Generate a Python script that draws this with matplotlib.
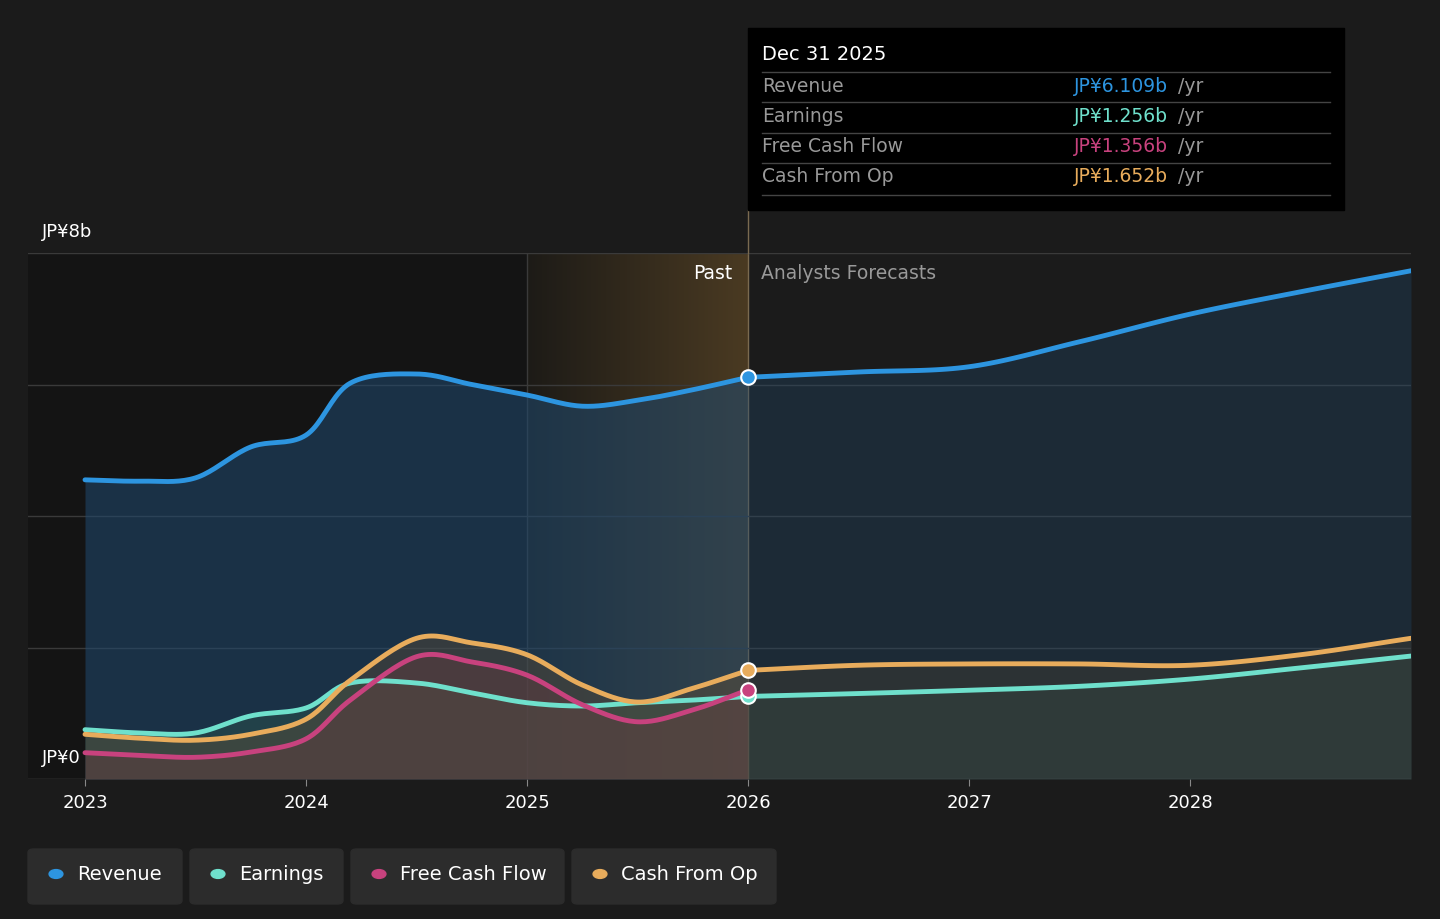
import matplotlib.pyplot as plt
import numpy as np
from matplotlib.patches import FancyBboxPatch, Rectangle
from matplotlib.colors import LinearSegmentedColormap

years_past = [2023, 2023.25, 2023.5, 2023.75, 2024, 2024.2, 2024.5, 2024.75, 2025, 2025.25, 2025.5, 2025.75, 2026]
years_fc = [2026, 2026.5, 2027, 2027.5, 2028, 2028.5, 2029]
rev_past = [4.55, 4.53, 4.58, 5.05, 5.23, 6.02, 6.16, 6.0, 5.84, 5.67, 5.76, 5.92, 6.109]
rev_fc = [6.109, 6.19, 6.27, 6.65, 7.07, 7.41, 7.73]
earn_past = [0.75, 0.70, 0.70, 0.96, 1.08, 1.46, 1.46, 1.31, 1.16, 1.11, 1.16, 1.2, 1.256]
earn_fc = [1.256, 1.30, 1.35, 1.41, 1.52, 1.69, 1.87]
fcf_past = [0.40, 0.36, 0.33, 0.41, 0.61, 1.2, 1.86, 1.78, 1.58, 1.13, 0.87, 1.05, 1.356]
cfo_past = [0.68, 0.62, 0.59, 0.68, 0.91, 1.5, 2.14, 2.07, 1.89, 1.43, 1.17, 1.38, 1.652]
cfo_fc = [1.652, 1.73, 1.75, 1.75, 1.73, 1.89, 2.14]

def smooth(x, y, n=20):
    x = np.asarray(x, float); y = np.asarray(y, float)
    P = np.concatenate([[2*y[0]-y[1]], y, [2*y[-1]-y[-2]]])
    X = np.concatenate([[2*x[0]-x[1]], x, [2*x[-1]-x[-2]]])
    xs, ys = [], []
    for i in range(1, len(X)-2):
        t = np.linspace(0, 1, n, endpoint=False)
        for A, out in ((X, xs), (P, ys)):
            p0, p1, p2, p3 = A[i-1], A[i], A[i+1], A[i+2]
            out.extend(0.5*((2*p1) + (-p0+p2)*t + (2*p0-5*p1+4*p2-p3)*t**2 + (-p0+3*p1-3*p2+p3)*t**3))
    xs.append(x[-1]); ys.append(y[-1])
    return np.array(xs), np.array(ys)

BG = '#1b1b1b'
fig = plt.figure(figsize=(14.4, 9.19), dpi=100, facecolor=BG)
ax = fig.add_axes([28/1440, 1-779/919, (1411-28)/1440, (779-253)/919])
ax.set_facecolor(BG)
x0 = 2023 - 57/221
ax.set_xlim(x0, 2029)
ax.set_ylim(0, 8)

ax.axvspan(x0, 2025, color='#141414', zorder=0)
grad = np.linspace(0, 1, 256).reshape(1, -1)
cm = LinearSegmentedColormap.from_list('g', ['#1d1b17', '#4a3a22'])
ax.imshow(grad, extent=[2025, 2026, 0, 8], aspect='auto', cmap=cm, zorder=0.5)
ax.axvline(2025, color='#3a3a3a', lw=1, zorder=1)
ax.axvline(2026, color='#7a6a50', lw=1, zorder=1)
ax.plot([2026, 2026], [8, 8 + (253-210)/65.75], color='#7a6a50', lw=1, clip_on=False)

for v in [0, 2, 4, 6, 8]:
    ax.axhline(v, color='#3a3a3a' if v else '#555555', lw=1, zorder=1)

series = [
    (years_past, rev_past, years_fc, rev_fc, '#2d95e0', '#1f4a70', 0.55),
    (years_past, earn_past, years_fc, earn_fc, '#6fe0cc', '#2f5a50', 0.4),
    (years_past, fcf_past, None, None, '#c8427e', '#6a2f48', 0.4),
    (years_past, cfo_past, years_fc, cfo_fc, '#e8ac5c', '#6a5030', 0.35),
]
for xp, yp, xf, yf, c, fc, a in series:
    sx, sy = smooth(xp, yp)
    ax.fill_between(sx, sy, 0, color=fc, alpha=a, lw=0, zorder=2)
    ax.plot(sx, sy, color=c, lw=3.5, zorder=4, solid_capstyle='round')
    if xf:
        fx_, fy_ = smooth(xf, yf)
        ax.fill_between(fx_, fy_, 0, color=fc, alpha=a*0.6, lw=0, zorder=2)
        ax.plot(fx_, fy_, color=c, lw=3.5, zorder=4, solid_capstyle='round')
    ax.scatter([2026], [yp[-1]], s=110, color=c, edgecolor='white', linewidth=1.5, zorder=6)

for s in ax.spines.values():
    s.set_visible(False)
ax.set_yticks([])
ax.set_xticks([2023, 2024, 2025, 2026, 2027, 2028])
ax.tick_params(axis='x', colors='#888888', labelcolor='white', labelsize=13, length=5, pad=6)

def fx(p): return p/1440
def fy(p): return 1 - p/919
fig.text(fx(42), fy(232), 'JP¥8b', color='white', fontsize=13, va='center')
fig.text(fx(42), fy(758), 'JP¥0', color='white', fontsize=13, va='center')
ax.text(2025.93, 7.6, 'Past', color='white', fontsize=13.5, ha='right')
ax.text(2026.06, 7.6, 'Analysts Forecasts', color='#999999', fontsize=13.5, ha='left')

fig.patches.append(Rectangle((fx(748), fy(210)), fx(1344-748), (210-28)/919, color='black', transform=fig.transFigure))
fig.text(fx(762), fy(55), 'Dec 31 2025', color='white', fontsize=14, va='center')
rows = [('Revenue', 'JP¥6.109b', '#2d95e0', 86), ('Earnings', 'JP¥1.256b', '#6fe0cc', 116),
        ('Free Cash Flow', 'JP¥1.356b', '#c8427e', 147), ('Cash From Op', 'JP¥1.652b', '#e8ac5c', 177)]
for lab, val, c, y in rows:
    fig.lines.append(plt.Line2D([fx(762), fx(1330)], [fy(y-14)]*2, color='#444444', lw=1, transform=fig.transFigure))
    fig.text(fx(762), fy(y), lab, color='#999999', fontsize=13.5, va='center')
    fig.text(fx(1074), fy(y), val, color=c, fontsize=13.5, va='center')
    fig.text(fx(1178), fy(y), '/yr', color='#999999', fontsize=13.5, va='center')
fig.lines.append(plt.Line2D([fx(762), fx(1330)], [fy(195)]*2, color='#444444', lw=1, transform=fig.transFigure))

legs = [('Revenue', '#2d95e0', 28, 182), ('Earnings', '#6fe0cc', 190, 343),
        ('Free Cash Flow', '#c8427e', 351, 564), ('Cash From Op', '#e8ac5c', 572, 776)]
for lab, c, l, r in legs:
    fig.patches.append(FancyBboxPatch((fx(l), fy(904)), fx(r-l), 55/919, boxstyle='round,pad=0,rounding_size=0.004',
                                      color='#2c2c2c', transform=fig.transFigure))
    fig.patches.append(plt.Circle((fx(l+28), fy(874)), 0.0048, color=c, transform=fig.transFigure))
    fig.text(fx(l+49), fy(874), lab, color='white', fontsize=14, va='center')

fig.savefig('out.png', dpi=100, facecolor=BG)
